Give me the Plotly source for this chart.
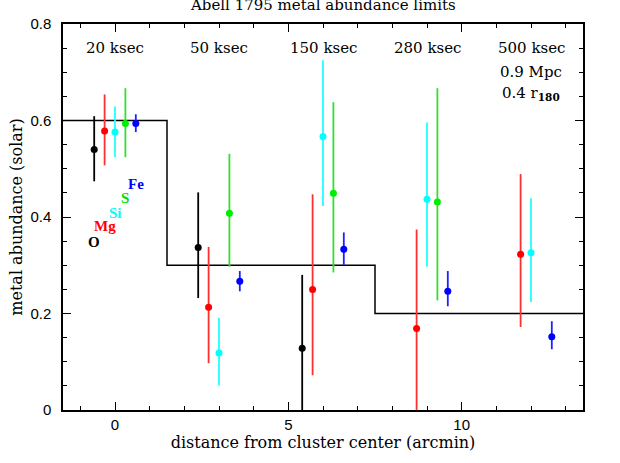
import plotly.graph_objects as go

# ---- data ----
elements = ["O", "Mg", "Si", "S", "Fe"]
colors = {"O": "#000000", "Mg": "#ff0000", "Si": "#00ffff", "S": "#00ee00", "Fe": "#0000ff"}
bar_colors = {"O": "#000000", "Mg": "#ff3030", "Si": "#20ffff", "S": "#30e030", "Fe": "#2020ff"}

O_x = [-0.6, 2.4, 5.4]
O_y = [0.540, 0.337, 0.128]
O_hi = [0.609, 0.451, 0.280]
O_lo = [0.474, 0.232, 0.0]

Mg_x = [-0.3, 2.7, 5.7, 8.7, 11.7]
Mg_y = [0.578, 0.213, 0.250, 0.169, 0.323]
Mg_hi = [0.654, 0.338, 0.447, 0.374, 0.489]
Mg_lo = [0.507, 0.097, 0.072, 0.0, 0.172]

Si_x = [0.0, 3.0, 6.0, 9.0, 12.0]
Si_y = [0.576, 0.118, 0.567, 0.437, 0.326]
Si_hi = [0.629, 0.191, 0.725, 0.596, 0.439]
Si_lo = [0.524, 0.051, 0.423, 0.297, 0.224]

S_x = [0.3, 3.3, 6.3, 9.3]
S_y = [0.594, 0.408, 0.449, 0.431]
S_hi = [0.667, 0.531, 0.638, 0.667]
S_lo = [0.524, 0.297, 0.285, 0.227]

Fe_x = [0.6, 3.6, 6.6, 9.6, 12.6]
Fe_y = [0.594, 0.267, 0.333, 0.246, 0.152]
Fe_hi = [0.613, 0.288, 0.368, 0.288, 0.184]
Fe_lo = [0.576, 0.246, 0.300, 0.215, 0.126]

step_x = [-1.5, 1.5, 7.5, 13.5]
step_y = [0.6, 0.3, 0.2, 0.2]

exposure_x = [0, 3, 6, 9, 12]
exposure_labels = ["20 ksec", "50 ksec", "150 ksec", "280 ksec", "500 ksec"]

label_x = [-0.6, -0.3, 0.0, 0.3, 0.6]
label_y = [0.348, 0.381, 0.409, 0.440, 0.469]

series = {
    "O": (O_x, O_y, O_hi, O_lo),
    "Mg": (Mg_x, Mg_y, Mg_hi, Mg_lo),
    "Si": (Si_x, Si_y, Si_hi, Si_lo),
    "S": (S_x, S_y, S_hi, S_lo),
    "Fe": (Fe_x, Fe_y, Fe_hi, Fe_lo),
}

SERIF = "DejaVu Serif"
SANS = "Liberation Sans"

fig = go.Figure()
fig.add_trace(go.Scatter(x=step_x, y=step_y, mode="lines", line_shape="hv",
                         line=dict(color="black", width=1.5), hoverinfo="skip"))

for el in elements:
    xs, ys, hi, lo = series[el]
    plus = [h - y for h, y in zip(hi, ys)]
    minus = [y - l for y, l in zip(ys, lo)]
    fig.add_trace(go.Scatter(
        x=xs, y=ys, mode="markers",
        marker=dict(color=colors[el], size=7),
        error_y=dict(type="data", symmetric=False, array=plus, arrayminus=minus,
                     color=bar_colors[el], thickness=1.8, width=0),
        name=el))

annotations = []
for x, t in zip(exposure_x, exposure_labels):
    annotations.append(dict(x=x, y=0.751, xref="x", yref="y", text=t, showarrow=False,
                            font=dict(family=SERIF, size=15, color="black")))
annotations.append(dict(x=12, y=0.700, xref="x", yref="y", text="0.9 Mpc", showarrow=False,
                        font=dict(family=SERIF, size=15, color="black")))
annotations.append(dict(x=12, y=0.655, xref="x", yref="y",
                        text="0.4 r<sub><b>180</b></sub>", showarrow=False,
                        font=dict(family=SERIF, size=15, color="black")))
for el, x, y in zip(elements, label_x, label_y):
    annotations.append(dict(x=x, y=y, xref="x", yref="y", text="<b>%s</b>" % el,
                            showarrow=False,
                            font=dict(family="Liberation Serif", size=15,
                                      color=colors[el] if el != "S" else "#00dd00")))

annotations.append(dict(x=0.5, y=1.0, xref="paper", yref="paper", yanchor="middle",
                        yshift=19, text="Abell 1795 metal abundance limits", showarrow=False,
                        font=dict(family=SERIF, size=15, color="black")))

fig.update_layout(
    width=620, height=463,
    margin=dict(l=63, r=37, t=24, b=53, autoexpand=False),
    paper_bgcolor="white", plot_bgcolor="white",
    showlegend=False,
    annotations=annotations,
    xaxis=dict(range=[-1.5, 13.5], tickvals=[0, 5, 10], ticktext=["0", "5", "10"],
               automargin=False,
               ticks="inside", ticklen=8, tickwidth=1.2, tickcolor="black",
               minor=dict(dtick=1, tick0=0, ticks="inside", ticklen=4, tickcolor="black", tickwidth=1),
               showline=True, linecolor="black", linewidth=1.5, mirror="allticks",
               showgrid=False, zeroline=False,
               tickfont=dict(family=SANS, size=15, color="black"),
               title=dict(text="distance from cluster center (arcmin)",
                          font=dict(family=SERIF, size=16, color="black"), standoff=0)),
    yaxis=dict(range=[0, 0.8], tickvals=[0, 0.2, 0.4, 0.6, 0.8],
               ticktext=["0", "0.2", "0.4", "0.6", "0.8"],
               automargin=False, ticklabelstandoff=7,
               ticks="inside", ticklen=8, tickwidth=1.2, tickcolor="black",
               minor=dict(dtick=0.05, tick0=0, ticks="inside", ticklen=4, tickcolor="black", tickwidth=1),
               showline=True, linecolor="black", linewidth=1.5, mirror="allticks",
               showgrid=False, zeroline=False,
               tickfont=dict(family=SANS, size=15, color="black"),
               title=dict(text="metal abundance (solar)",
                          font=dict(family=SERIF, size=16, color="black"), standoff=4)),
)

fig.write_html("out.html", config={"displayModeBar": False},
               post_script="document.body.style.margin='0';")
